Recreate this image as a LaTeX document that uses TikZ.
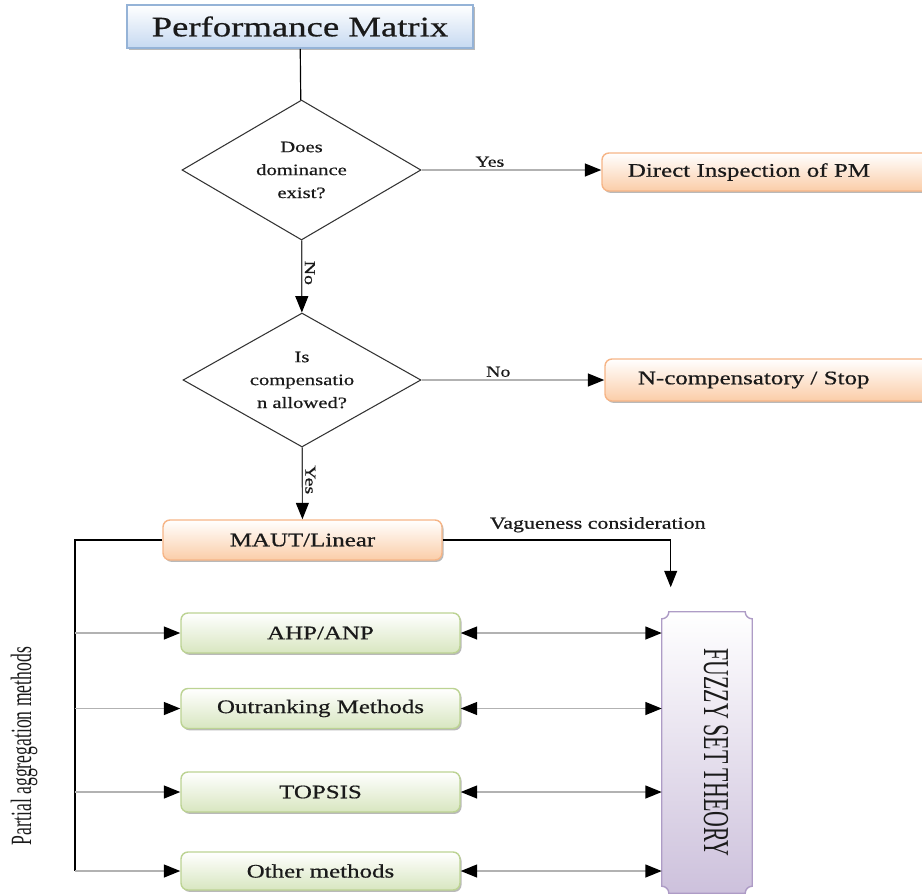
\documentclass[tikz,border=0pt]{standalone}
\usepackage{fontspec}
\setmainfont{Liberation Serif}[FakeStretch=1.3, FakeBold=0.6]
\newfontfamily\narrowserif{Liberation Serif}[FakeStretch=0.6]
\usetikzlibrary{shapes.geometric,arrows.meta,shadows,calc}
\newcommand{\pxu}{0.85pt}

\definecolor{blueline}{HTML}{95B3D7}
\definecolor{bluefill}{HTML}{C6D9F1}
\definecolor{orangeline}{HTML}{F6B587}
\definecolor{orangefill}{HTML}{FBCDA8}
\definecolor{greenline}{HTML}{BCD393}
\definecolor{greenfill}{HTML}{D8E6C0}
\definecolor{purpleline}{HTML}{AE9CC6}
\definecolor{purplefill}{HTML}{CDC1DC}
\definecolor{inkcol}{HTML}{1A1A1A}

\tikzset{
  boxshadow/.style={drop shadow={shadow xshift=1.3pt, shadow yshift=-1.6pt, fill=black!55, opacity=.5}},
  box/.style={rectangle, minimum width=279*\pxu, minimum height=40*\pxu, inner sep=0pt,
    font=\fontsize{16.3}{18}\selectfont, text=inkcol, rounded corners=7*\pxu, line width=1.2pt, boxshadow},
  orangebox/.style={box, draw=orangeline, top color=white, bottom color=orangefill},
  greenbox/.style={box, draw=greenline, top color=white, bottom color=greenfill},
  leftset/.style={align=left, text width=#1},
  decision/.style={diamond, aspect=1.7, draw=black!80, line width=0.9pt, inner sep=0pt,
    align=center, text=inkcol, font=\fontsize{13.5}{19.5}\selectfont},
  lbl/.style={font=\fontsize{13}{15}\selectfont, text=inkcol, inner sep=2pt},
  flow/.style={line width=1pt, black},
  link/.style={line width=1.3pt, black!30},
  tip/.style={-{Triangle[length=14pt,width=11pt,color=black]}},
  twotips/.style={{Triangle[length=14pt,width=11pt,color=black]}-{Triangle[length=14pt,width=11pt,color=black]}},
}

\begin{document}
\begin{tikzpicture}[x=\pxu, y=\pxu]
\useasboundingbox (0,0) rectangle (922,-894);

% starting box
\node[rectangle, minimum width=346*\pxu, minimum height=43*\pxu, inner sep=0pt,
      draw=blueline, line width=1.5pt, top color=white, bottom color=bluefill, boxshadow,
      font=\fontsize{24}{26}\selectfont, text=inkcol] (pm) at (300,-26.5) {Performance Matrix};

% decisions
\node[decision, minimum width=239*\pxu, minimum height=140*\pxu] (d1) at (301.5,-170) {Does\\dominance\\exist?};
\node[decision, minimum width=238*\pxu, minimum height=134*\pxu] (d2) at (302,-380) {Is\\compensatio\\n allowed?};

% outcome boxes (they run on past the right edge)
\node[orangebox, minimum width=328*\pxu, minimum height=38*\pxu, leftset=328*\pxu] (dip) at (766,-172) {\hspace*{22pt}Direct Inspection of PM};
\node[orangebox, minimum width=325*\pxu, minimum height=42*\pxu, leftset=325*\pxu] (nc) at (767.5,-380) {\hspace*{28pt}N-compensatory / Stop};
\node[orangebox] (maut) at (302.5,-540) {MAUT/Linear};

% methods
\node[greenbox] (ahp) at (320.5,-633) {AHP/ANP};
\node[greenbox] (outr) at (320.5,-708.5) {Outranking Methods};
\node[greenbox] (tops) at (320.5,-792) {TOPSIS};
\node[greenbox, minimum height=38*\pxu] (oth) at (320.5,-871) {Other methods};

% fuzzy set theory panel with notched corners
\node[minimum width=90*\pxu, minimum height=281*\pxu, inner sep=0pt] (fz) at (707,-752.5) {};
\fill[black!55, opacity=.5, xshift=1.5pt, yshift=-1.5pt]
  let \p1=(fz.north west), \p2=(fz.south east) in
  (\x1,\y1-6pt) arc[start angle=270,end angle=360,radius=6pt] -- (\x2-6pt,\y1)
  arc[start angle=180,end angle=270,radius=6pt] -- (\x2,\y2+6pt)
  arc[start angle=90,end angle=180,radius=6pt] -- (\x1+6pt,\y2)
  arc[start angle=0,end angle=90,radius=6pt] -- cycle;
\shade[top color=white, bottom color=purplefill, draw=purpleline, line width=1.2pt]
  let \p1=(fz.north west), \p2=(fz.south east) in
  (\x1,\y1-6pt) arc[start angle=270,end angle=360,radius=6pt] -- (\x2-6pt,\y1)
  arc[start angle=180,end angle=270,radius=6pt] -- (\x2,\y2+6pt)
  arc[start angle=90,end angle=180,radius=6pt] -- (\x1+6pt,\y2)
  arc[start angle=0,end angle=90,radius=6pt] -- cycle;
\node[rotate=-90, font=\narrowserif\fontsize{31}{33}\selectfont, text=inkcol] (fztext) at (716,-752.5) {FUZZY SET THEORY};

% side label
\node[rotate=90, font=\narrowserif\fontsize{25}{27}\selectfont, text=inkcol] (pam) at (24,-746) {Partial aggregation methods};

% main flow
\draw[flow] (pm) -- (d1);
\draw[flow, black!75, tip] (d1) -- node[pos=.45, rotate=-90, anchor=south, lbl] {No} (d2);
\draw[flow, black!75, tip] (d2) -- node[pos=.45, rotate=-90, anchor=south, lbl] {Yes} (maut);
\draw[link, tip] (d1.east) -- node[pos=.38, above, lbl] {Yes} (d1.east -| dip.west);
\draw[link, tip] (d2.east) -- node[pos=.42, above, lbl] {No} (d2.east -| nc.west);

% vagueness branch
\draw[flow, tip] (maut.east) -| node[pos=.34, above=4pt, lbl, font=\fontsize{14.3}{16}\selectfont] {Vagueness consideration} ([xshift=-3\pxu, yshift=2\pxu]fz.north);

% partial aggregation trunk
\coordinate (trunk) at (75,-871);
\draw[flow] (maut.west) -| (trunk);
\foreach \m in {ahp,outr,tops,oth}{
  \draw[link, tip] (\m.west -| trunk) -- (\m.west);
  \draw[link, twotips] (\m.east) -- (\m.east -| fz.west);
}
\end{tikzpicture}
\end{document}
